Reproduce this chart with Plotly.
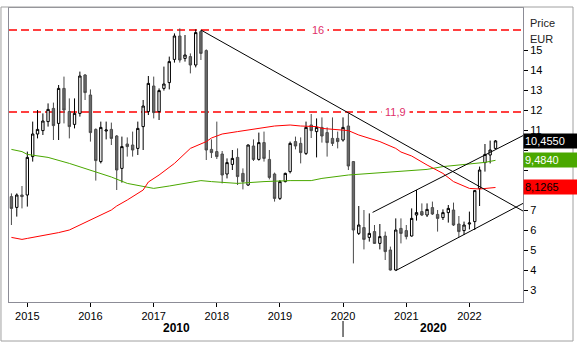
import pandas as pd
import plotly.graph_objects as go

# Monthly candles, Oct 2014 - Jun 2022 (EUR)
months = pd.date_range("2014-10-01", "2022-06-01", freq="MS")

opens = [
    7.67, 7.13, 7.75,
    7.75, 9.67, 10.8, 10.97, 11.42, 12.08, 11.33, 13.08, 11.92, 11.28, 11.83, 13.75,
    12.75, 11.03, 9.42, 10.95, 11.03, 10.7, 9.08, 10.3, 10.25, 10.08, 11.17, 11.92,
    13.2, 11.92, 13.08, 13.37, 14.53, 15.7, 14.58, 14.67, 14.25, 15.92, 14.97, 10.03,
    9.92, 9.8, 8.8, 9.28, 9.63, 8.83, 8.25, 10.2, 9.53, 10.37, 9.53, 8.8,
    7.58, 8.42, 8.92, 10.42, 10.33, 9.83, 11.25, 10.92, 11.13, 10.87, 10.58, 10.58,
    10.5, 11.2, 9.42, 5.83, 6.12, 5.63, 5.92, 5.33, 5.7, 5.0, 4.0, 6.08,
    5.97, 5.7, 6.75, 6.92, 6.75, 7.12, 6.78, 6.62, 6.87, 7.0, 6.3, 5.97,
    6.3, 6.42, 8.08, 9.37, 9.75, 10.08,
]
highs = [
    7.83, 7.83, 8.2,
    9.92, 11.42, 12.0, 11.83, 12.33, 12.37, 13.25, 13.67, 12.58, 12.58, 13.92, 13.8,
    13.03, 11.08, 11.42, 11.42, 11.37, 10.75, 10.67, 10.63, 10.92, 11.42, 12.5, 13.7,
    13.67, 13.08, 14.17, 14.67, 15.83, 16.08, 15.75, 14.83, 16.03, 16.0, 15.03, 10.53,
    11.42, 9.95, 9.58, 10.0, 10.08, 9.08, 10.28, 10.53, 10.87, 10.92, 10.0, 8.87,
    8.5, 8.87, 10.42, 10.67, 10.63, 11.42, 11.8, 11.58, 11.63, 11.13, 11.63, 10.92,
    11.63, 11.83, 9.45, 7.2, 7.0, 6.83, 6.25, 6.3, 5.92, 5.17, 6.58, 6.58,
    6.25, 7.08, 8.0, 7.33, 7.33, 7.42, 7.0, 7.03, 7.25, 7.37, 6.7, 6.42,
    6.92, 8.0, 9.17, 10.3, 10.47, 10.5,
]
lows = [
    6.25, 6.67, 7.08,
    7.17, 9.42, 10.58, 10.75, 11.17, 10.5, 10.5, 11.33, 10.58, 11.08, 11.67, 12.5,
    10.42, 8.47, 9.33, 10.53, 10.25, 8.0, 8.37, 9.67, 9.67, 9.75, 10.0, 11.75,
    11.58, 11.5, 12.97, 13.03, 14.37, 14.37, 14.42, 13.83, 14.13, 14.5, 9.5, 9.6,
    9.55, 8.33, 8.58, 9.0, 8.25, 8.03, 8.2, 9.45, 9.47, 9.42, 8.53, 7.42,
    7.5, 8.38, 8.83, 10.03, 9.33, 9.75, 10.6, 9.63, 10.37, 9.67, 10.2, 10.08,
    10.42, 9.0, 4.33, 5.75, 5.03, 5.42, 5.3, 5.03, 4.5, 3.97, 3.97, 5.33,
    5.53, 5.67, 6.47, 6.7, 6.65, 6.75, 5.92, 6.5, 6.37, 6.2, 5.63, 5.75,
    6.03, 6.0, 7.2, 8.92, 9.33, 10.05,
]
closes = [
    7.08, 7.75, 7.67,
    9.63, 10.8, 11.03, 11.45, 12.03, 11.22, 13.08, 12.0, 11.17, 11.83, 13.7, 12.87,
    10.87, 9.47, 11.13, 11.0, 10.58, 9.0, 10.17, 10.17, 10.0, 11.08, 12.2, 13.33,
    11.87, 12.97, 13.3, 14.42, 15.7, 14.5, 14.75, 14.25, 15.87, 14.83, 10.0, 9.87,
    9.67, 8.75, 9.37, 9.58, 8.67, 8.42, 10.25, 9.53, 10.37, 9.58, 8.63, 7.58,
    8.42, 8.83, 10.33, 10.2, 9.87, 11.13, 10.97, 11.13, 10.7, 10.37, 10.33, 10.42,
    11.13, 9.2, 6.0, 6.25, 5.53, 5.83, 5.33, 5.67, 4.92, 4.0, 6.0, 5.83,
    5.67, 6.58, 6.87, 6.75, 7.03, 6.8, 6.58, 6.87, 7.08, 6.25, 5.92, 6.25,
    6.35, 7.97, 9.0, 9.78, 10.0, 10.455,
]

# Moving averages (red: shorter, green: longer)
ma_red_dates = [
    "2014-10-01", "2014-12-01", "2015-01-01", "2015-03-01", "2015-05-01", "2015-07-01",
    "2015-09-01", "2015-11-01", "2016-01-01", "2016-03-01", "2016-05-01", "2016-06-01",
    "2016-08-01", "2016-11-01", "2016-12-01", "2017-02-01", "2017-05-01", "2017-08-01",
    "2017-11-01", "2017-12-01", "2018-02-01", "2018-05-01", "2018-09-01", "2018-12-01",
    "2019-03-01", "2019-05-01", "2019-08-01", "2019-09-01", "2020-02-01", "2020-04-01",
    "2020-08-01", "2020-11-01", "2020-12-01", "2021-02-01", "2021-05-01", "2021-08-01",
    "2021-10-01", "2021-12-01", "2022-01-01", "2022-03-01", "2022-06-01",
]
ma_red = [
    5.63, 5.53, 5.58, 5.67, 5.78, 5.87,
    6.0, 6.25, 6.5, 6.75, 7.0, 7.2,
    7.5, 8.0, 8.4, 8.75, 9.33, 10.08,
    10.42, 10.6, 10.8, 10.92, 11.08, 11.2,
    11.25, 11.2, 11.17, 11.08, 10.97, 10.75,
    10.42, 10.08, 9.9, 9.7, 9.25, 8.83,
    8.42, 8.17, 8.08, 8.05, 8.1265,
]
ma_green_dates = [
    "2014-10-01", "2014-12-01", "2015-01-01", "2015-05-01", "2015-09-01", "2016-01-01",
    "2016-05-01", "2016-08-01", "2016-11-01", "2017-01-01", "2017-04-01", "2017-07-01",
    "2017-10-01", "2017-12-01", "2018-05-01", "2018-10-01", "2019-03-01", "2019-07-01",
    "2019-09-01", "2020-02-01", "2020-06-01", "2020-10-01", "2021-01-01", "2021-05-01",
    "2021-08-01", "2021-12-01", "2022-04-01", "2022-06-01",
]
ma_green = [
    10.03, 9.92, 9.78, 9.63, 9.33, 9.0,
    8.65, 8.33, 8.17, 8.08, 8.2, 8.33,
    8.47, 8.42, 8.33, 8.42, 8.47, 8.47,
    8.58, 8.75, 8.83, 8.92, 8.97, 9.03,
    9.17, 9.28, 9.38, 9.484,
]

# Trend lines: (dates, prices)
x_start, x_end = "2014-09-17", "2022-11-07"
down_trend = (["2017-10-01", x_end], [16.0, 6.95])
channel_low = (["2020-11-01", x_end], [3.97, 7.33])
channel_high = (["2020-06-20", x_end], [6.88, 10.72])

# Horizontal levels
levels = [16.0, 11.9]
level_labels = ["16", "11,9"]
level_label_pos = [0.601, 0.78]

last_close, last_green, last_red = 10.455, 9.484, 8.1265
y_ticks = list(range(3, 16))
# labels under the last-value boxes stay blank
y_ticktext = ["" if v in (8, 9, 10) else str(v) for v in y_ticks]

FONT = "Liberation Sans, Arial, sans-serif"

fig = go.Figure()

for lvl in levels:
    fig.add_shape(type="line", xref="paper", yref="y", x0=0, x1=1, y0=lvl, y1=lvl,
                  line=dict(color="#ff0000", width=1.5, dash="8px,4px"), layer="below")

fig.add_trace(go.Scatter(x=ma_green_dates, y=ma_green, mode="lines",
                         line=dict(color="#4aa800", width=1), hoverinfo="skip"))
fig.add_trace(go.Scatter(x=ma_red_dates, y=ma_red, mode="lines",
                         line=dict(color="#ff0000", width=1), hoverinfo="skip"))

for xs, ys in (down_trend, channel_low, channel_high):
    fig.add_trace(go.Scatter(x=xs, y=ys, mode="lines",
                             line=dict(color="black", width=1), hoverinfo="skip"))

fig.add_trace(go.Candlestick(
    x=months, open=opens, high=highs, low=lows, close=closes,
    increasing=dict(line=dict(color="black", width=1), fillcolor="white"),
    decreasing=dict(line=dict(color="#4a4a4a", width=1), fillcolor="#6a6a6a"),
    whiskerwidth=0,
))

for lbl, lvl, xp in zip(level_labels, levels, level_label_pos):
    fig.add_annotation(x=xp, xref="paper", y=lvl, yref="y", text=lbl, showarrow=False,
                       font=dict(family=FONT, size=11, color="#e0306a"),
                       bgcolor="white", borderpad=3)

# Last-value boxes on the price scale
for val, bg, fg in ((last_close, "black", "white"), (last_green, "#4aa800", "white"),
                    (last_red, "#ff0000", "black")):
    fig.add_annotation(x=1.0, xref="paper", y=val, yref="y", xanchor="left",
                       text=f"{val:.4f}".replace(".", ","), showarrow=False, align="left",
                       width=51, height=12, borderpad=1, bgcolor=bg,
                       font=dict(family=FONT, size=11, color=fg))

fig.add_annotation(x=1.0097, xref="paper", y=0.976, yref="paper", xanchor="left",
                   text="Price", showarrow=False, font=dict(family=FONT, size=11, color="#222"))
fig.add_annotation(x=1.0097, xref="paper", y=0.922, yref="paper", xanchor="left",
                   text="EUR", showarrow=False, font=dict(family=FONT, size=11, color="#222"))

# Decade labels below the year axis
t0, t1, t2 = pd.Timestamp(x_start), pd.Timestamp("2020-01-01"), pd.Timestamp(x_end)
for lbl, a, b in (("2010", t0, t1), ("2020", t1, t2)):
    fig.add_annotation(x=a + (b - a) / 2, xref="x", y=-0.0884, yref="paper",
                       yanchor="middle", text=f"<b>{lbl}</b>", showarrow=False,
                       font=dict(family=FONT, size=12, color="black"))
fig.add_shape(type="line", xref="x", yref="paper", x0="2020-01-01", x1="2020-01-01",
              y0=-0.0646, y1=-0.119, line=dict(color="black", width=1))

# Outer frame
fig.add_shape(type="rect", xref="paper", yref="paper", x0=-0.0156, x1=1.0973,
              y0=-0.1327, y1=1.0034, line=dict(color="#a0a0a0", width=1))

fig.update_layout(
    width=577, height=343,
    margin=dict(l=9, r=54, t=8, b=41),
    paper_bgcolor="white", plot_bgcolor="white",
    showlegend=False,
    font=dict(family=FONT, size=11, color="black"),
    xaxis=dict(
        type="date", range=[x_start, x_end], rangeslider=dict(visible=False),
        tick0="2015-01-01", dtick="M12", tickformat="%Y",
        ticks="outside", ticklen=4, tickcolor="black",
        showgrid=False, zeroline=False,
        showline=True, mirror=True, linecolor="#8c8c96", linewidth=1,
        tickfont=dict(family=FONT, size=11, color="black"),
    ),
    yaxis=dict(
        side="right", range=[2.4, 17.1], tickvals=y_ticks, ticktext=y_ticktext,
        ticks="outside", ticklen=4, tickcolor="black",
        showgrid=False, zeroline=False,
        showline=True, mirror=True, linecolor="#8c8c96", linewidth=1,
        tickfont=dict(family=FONT, size=11, color="black"),
    ),
)

fig.write_html("out.html")
